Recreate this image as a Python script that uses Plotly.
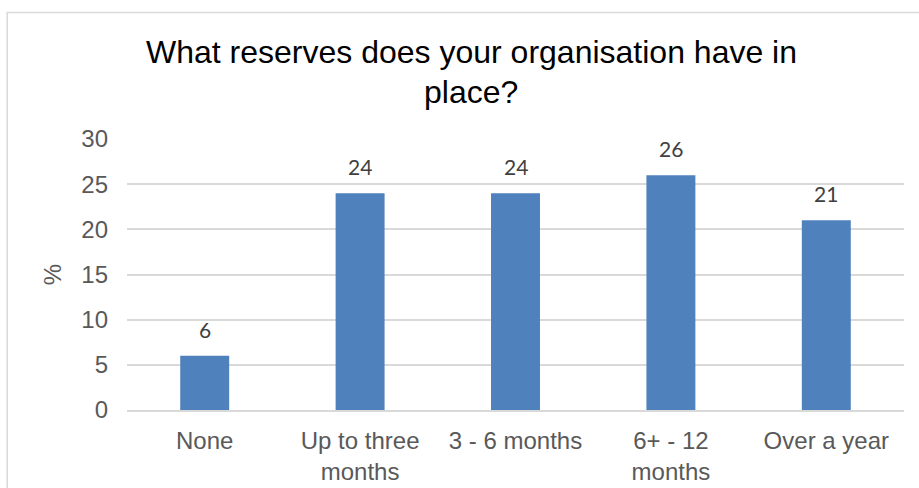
import plotly.graph_objects as go

categories = ["None", "Up to three<br>months", "3 - 6 months", "6+ - 12<br>months", "Over a year"]
values = [6, 24, 24, 26, 21]
y_ticks = [0, 5, 10, 15, 20, 25, 30]

title_lines = ["What reserves does your organisation have in", "place?"]

BAR_COLOR = "#4F81BD"
GRID_COLOR = "#D9D9D9"
TICK_COLOR = "#595959"

fig = go.Figure()
fig.add_trace(go.Bar(
    x=categories,
    y=values,
    marker=dict(color=BAR_COLOR, line=dict(width=0)),
    width=0.315,
    hoverinfo="x+y",
))

# value labels above each bar
for c, v in zip(categories, values):
    fig.add_annotation(
        x=c, y=v, text=str(v), showarrow=False,
        xref="x", yref="y", yanchor="bottom", yshift=12,
        font=dict(family="Lato, Carlito, sans-serif", size=21, color="#404040"),
    )

# two-line chart title
fig.add_annotation(
    x=0.443, y=1.0, xref="paper", yref="paper", showarrow=False,
    text=title_lines[0], yanchor="middle", xanchor="center",
    yshift=410 - 52 - 271,
    font=dict(family="Liberation Sans, Arial, sans-serif", size=32, color="#000000"),
)
fig.add_annotation(
    x=0.443, y=1.0, xref="paper", yref="paper", showarrow=False,
    text=title_lines[1], yanchor="middle", xanchor="center",
    yshift=410 - 92 - 271,
    font=dict(family="Liberation Sans, Arial, sans-serif", size=32, color="#000000"),
)

# chart border
fig.add_shape(
    type="rect", xref="paper", yref="paper",
    x0=(7.5 - 127.25) / 776.5, x1=(930 - 127.25) / 776.5,
    y0=(410 - 500) / 271, y1=(410 - 12.5) / 271,
    line=dict(color=GRID_COLOR, width=1.5), fillcolor="rgba(0,0,0,0)",
    layer="below",
)

fig.update_layout(
    width=919, height=488,
    margin=dict(l=127, r=15, t=139, b=78, autoexpand=False),
    paper_bgcolor="white", plot_bgcolor="white",
    showlegend=False,
    bargap=0.685,
    font=dict(family="Liberation Sans, Arial, sans-serif", color=TICK_COLOR),
)
fig.update_xaxes(
    showgrid=False, showline=True, linecolor=GRID_COLOR, linewidth=1.5,
    ticks="", tickfont=dict(size=24, color=TICK_COLOR), ticklabelstandoff=8,
    automargin=False,
)
fig.update_yaxes(
    range=[0, 30], tickvals=y_ticks, showgrid=True, gridcolor=GRID_COLOR, gridwidth=1.5,
    zeroline=False, showline=False, ticks="",
    tickfont=dict(size=24, color=TICK_COLOR), ticklabelstandoff=18,
    title=dict(text="%", font=dict(size=24, color=TICK_COLOR), standoff=12),
    automargin=False,
)

fig.write_html("out.html")
